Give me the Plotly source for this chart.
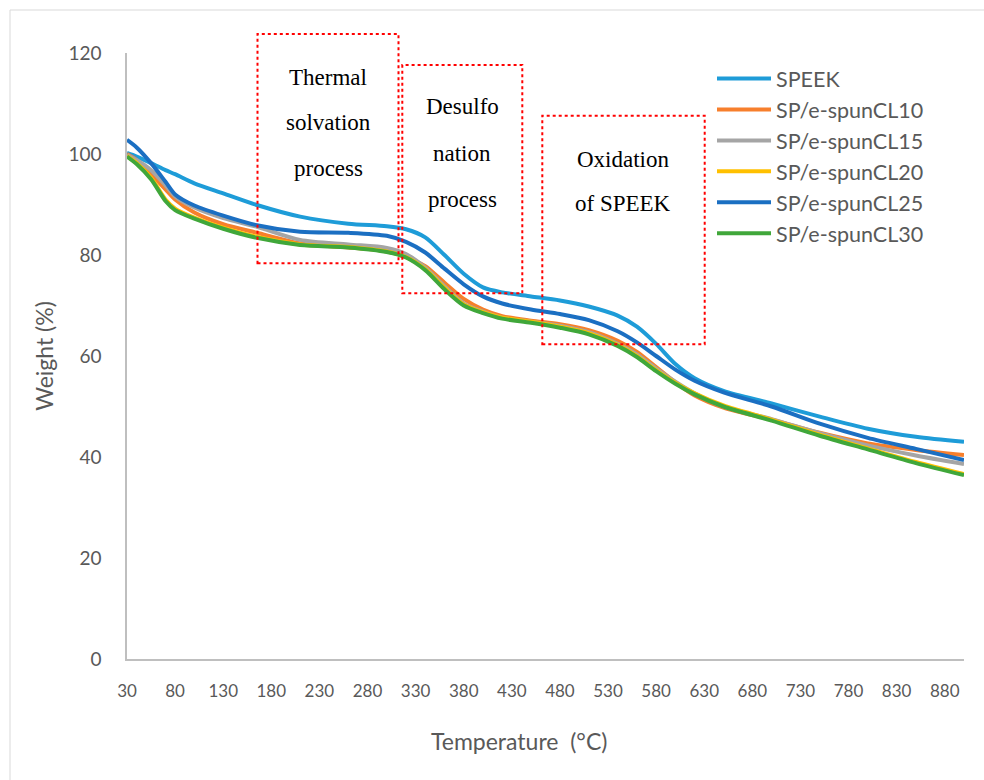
import plotly.graph_objects as go

temperature = [30, 40, 55, 70, 80, 100, 130, 165, 210, 260, 300, 320, 340, 360, 380, 400,
               420, 450, 480, 510, 540, 560, 580, 600, 620, 650, 700, 750, 800, 850, 900]

speek = [100.2, 99.5, 98.2, 96.8, 96.0, 94.2, 92.2, 89.9, 87.6, 86.2, 85.7, 85.1, 83.5, 80.0,
         76.3, 73.6, 72.6, 71.8, 71.0, 69.8, 68.0, 65.8, 62.4, 58.4, 55.6, 53.1, 50.6, 48.0,
         45.6, 44.0, 43.0]
cl10 = [100.0, 98.8, 96.0, 93.0, 91.0, 88.4, 86.1, 84.4, 82.3, 81.5, 80.8, 79.6, 77.8, 74.5,
        71.3, 69.2, 67.9, 67.0, 66.3, 65.1, 63.0, 60.8, 57.8, 54.8, 52.2, 49.8, 47.4, 44.8,
        42.7, 41.4, 40.4]
cl15 = [99.8, 98.8, 96.8, 93.8, 91.6, 89.4, 87.3, 85.6, 83.0, 82.1, 81.4, 80.2, 77.5, 73.8,
        70.4, 68.8, 67.6, 66.8, 66.0, 64.7, 62.4, 60.3, 57.5, 54.9, 52.6, 50.0, 47.5, 44.7,
        42.3, 40.3, 38.6]
cl20 = [99.6, 98.2, 95.3, 91.0, 89.2, 87.4, 85.4, 83.6, 82.1, 81.6, 80.7, 79.6, 77.2, 73.5,
        70.2, 68.7, 67.6, 66.8, 65.8, 64.5, 62.2, 60.0, 57.2, 54.7, 52.6, 50.2, 47.4, 44.4,
        41.7, 39.0, 36.6]
cl25 = [102.8, 101.3, 98.2, 94.5, 92.0, 89.8, 87.8, 85.9, 84.6, 84.4, 83.8, 82.6, 80.5, 77.3,
        74.2, 71.8, 70.4, 69.2, 68.3, 67.1, 64.9, 62.7, 60.0, 57.3, 55.1, 52.8, 50.0, 46.6,
        43.8, 41.6, 39.4]
cl30 = [99.5, 98.0, 95.0, 90.7, 88.9, 87.2, 85.2, 83.4, 82.0, 81.5, 80.6, 79.5, 77.0, 73.2,
        70.0, 68.5, 67.4, 66.6, 65.6, 64.3, 62.0, 59.8, 57.0, 54.5, 52.4, 50.0, 47.2, 44.2,
        41.5, 38.8, 36.4]

series_names = ["SPEEK", "SP/e-spunCL10", "SP/e-spunCL15", "SP/e-spunCL20",
                "SP/e-spunCL25", "SP/e-spunCL30"]
series_values = [speek, cl10, cl15, cl20, cl25, cl30]
series_colors = ["#1E9CD8", "#F77F2C", "#A5A5A5", "#FFC000", "#1B6FC2", "#40A73A"]

x_ticks = list(range(30, 900, 50))

fig = go.Figure()
for i, (name, vals, col) in enumerate(zip(series_names, series_values, series_colors)):
    fig.add_trace(go.Scatter(
        x=temperature, y=vals, name=name, mode="lines",
        line=dict(color=col, width=4, shape="spline", smoothing=0.8),
        legendgroup=f"g{i}",
    ))

FONT = "Lato"
GRAY = "#595959"
W, H = 984, 780
L, R, T, B = 127, 20, 53, 121
pw, ph = W - L - R, H - T - B


def px(xp):
    return (xp - L) / pw


def py(yp):
    return (H - B - yp) / ph


shapes = []
# chart area border
shapes.append(dict(type="rect", xref="paper", yref="paper",
                   x0=px(10), x1=px(W + 10), y0=py(H + 10), y1=py(10),
                   line=dict(color="#D9D9D9", width=1), fillcolor="rgba(0,0,0,0)", layer="below"))
boxes = [(257.5, 398.5, 34, 263.3), (402.3, 522.3, 65, 293.3), (542.3, 704.7, 115.7, 344.3)]
for x0, x1, y0, y1 in boxes:
    shapes.append(dict(type="rect", xref="paper", yref="paper",
                       x0=px(x0), x1=px(x1), y0=py(y1), y1=py(y0),
                       line=dict(color="#FF0000", width=2, dash="dot"),
                       fillcolor="rgba(0,0,0,0)", layer="above"))

box_texts = [("Thermal", 328, 77), ("solvation", 328, 123), ("process", 328, 168),
             ("Desulfo", 462, 107), ("nation", 462, 153), ("process", 462, 199),
             ("Oxidation", 623, 159), ("of SPEEK", 623, 203)]
annotations = []
for txt, xx, yy in box_texts:
    annotations.append(dict(text=txt, xref="paper", yref="paper", x=px(xx), y=py(yy),
                            xanchor="center", yanchor="middle", showarrow=False,
                            font=dict(family="Liberation Serif", size=23, color="black")))
# x-axis title (centred on the chart area, as in the original)
annotations.append(dict(text="Temperature\u00a0\u00a0(°C)", xref="paper", yref="paper",
                        x=px(519), y=py(741), xanchor="center", yanchor="middle",
                        showarrow=False, font=dict(family=FONT, size=23, color=GRAY)))

fig.update_layout(
    width=W, height=H,
    margin=dict(l=L, r=R, t=T, b=B, pad=0),
    paper_bgcolor="white", plot_bgcolor="white",
    shapes=shapes, annotations=annotations,
    showlegend=True,
    legend=dict(x=px(712), y=py(58), xanchor="left", yanchor="top",
                font=dict(family=FONT, size=21.5, color=GRAY),
                bgcolor="rgba(0,0,0,0)", tracegroupgap=0, itemwidth=54),
    xaxis=dict(range=[30, 900], tickvals=x_ticks, ticktext=[str(v) for v in x_ticks],
               showgrid=False, zeroline=False, showline=True, linecolor="#BFBFBF", linewidth=1.5,
               ticks="outside", ticklen=16, tickcolor="rgba(0,0,0,0)",
               tickfont=dict(family=FONT, size=17, color=GRAY)),
    yaxis=dict(range=[0, 120], tickvals=[0, 20, 40, 60, 80, 100, 120],
               showgrid=False, zeroline=False, showline=True, linecolor="#BFBFBF", linewidth=1.5,
               ticks="outside", ticklen=20, tickcolor="rgba(0,0,0,0)",
               tickfont=dict(family=FONT, size=19, color=GRAY),
               title=dict(text="Weight (%)", font=dict(family=FONT, size=23, color=GRAY),
                          standoff=8)),
)

fig.write_html("out.html", config={"displayModeBar": False},
               post_script="document.body.style.margin='0';")
